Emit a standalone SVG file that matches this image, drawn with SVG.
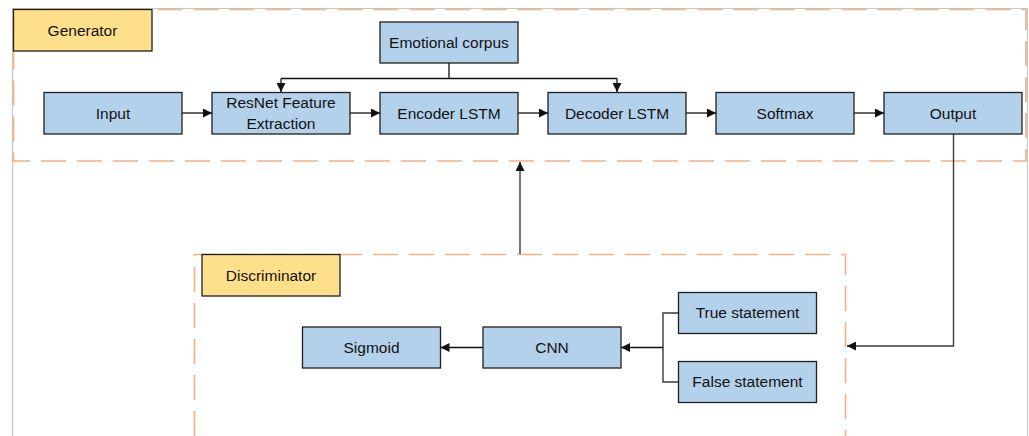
<svg xmlns="http://www.w3.org/2000/svg" width="1029" height="436" viewBox="0 0 1029 436">
  <style>
    .frame { fill: none; stroke: #c6c6c6; stroke-width: 1.2; }
    .group { fill: none; stroke: #f4b183; stroke-width: 1.7; stroke-dasharray: 25 11; }
    .box { fill: #b4d1eb; stroke: #1f1f1f; stroke-width: 1.3; }
    .label { fill: #ffe08a; stroke: #1f1f1f; stroke-width: 1.3; }
    text { font-family: "Liberation Sans", Arial, sans-serif; font-size: 15.5px; fill: #111; text-anchor: middle; }
    .conn { fill: none; stroke: #111; stroke-width: 1.3; }
    .conn2 { fill: none; stroke: #3a3a3a; stroke-width: 1.4; }
  </style>
  <defs>
    <marker id="arr" viewBox="0 0 10 10" refX="10" refY="5" markerWidth="9" markerHeight="9" markerUnits="userSpaceOnUse" orient="auto">
      <path d="M0,0 L10,5 L0,10 Z" fill="#111"/>
    </marker>
  </defs>

  <rect width="1029" height="436" fill="#ffffff"/>
  <!-- outer frame -->
  <path class="frame" d="M12.5,436 L12.5,8.5 L1027.5,8.5 L1027.5,436"/>

  <!-- group boxes -->
  <g id="generator-group">
    <rect class="group" x="13.5" y="9.5" width="1012.5" height="151.5"/>
    <rect class="label" x="13.5" y="9.5" width="138.5" height="41.5"/>
    <text x="82.5" y="35.5">Generator</text>
  </g>
  <g id="discriminator-group">
    <path class="group" d="M194.5,436 L194.5,254.5 L845.5,254.5 L845.5,436"/>
    <rect class="label" x="202" y="254.5" width="138" height="41.5"/>
    <text x="271" y="280.5">Discriminator</text>
  </g>

  <!-- connectors -->
  <g id="connectors">
    <path class="conn" d="M449,63 L449,78.5 M281,78.5 L617,78.5"/>
    <path class="conn" d="M281,78.5 L281,92" marker-end="url(#arr)"/>
    <path class="conn" d="M617,78.5 L617,92" marker-end="url(#arr)"/>
    <path class="conn" d="M182,113 L212,113" marker-end="url(#arr)"/>
    <path class="conn" d="M350,113 L380,113" marker-end="url(#arr)"/>
    <path class="conn" d="M518,113 L548,113" marker-end="url(#arr)"/>
    <path class="conn" d="M686,113 L716,113" marker-end="url(#arr)"/>
    <path class="conn" d="M854,113 L884,113" marker-end="url(#arr)"/>
    <path class="conn2" d="M953.5,134 L953.5,346 L847,346" marker-end="url(#arr)"/>
    <path class="conn2" d="M520,254 L520,162" marker-end="url(#arr)"/>
    <path class="conn2" d="M678.5,313 L663,313 L663,382 L678.5,382"/>
    <path class="conn" d="M663,347.5 L621,347.5" marker-end="url(#arr)"/>
    <path class="conn" d="M483,347.5 L440.5,347.5" marker-end="url(#arr)"/>
  </g>

  <!-- nodes -->
  <g id="emotional-corpus">
    <rect class="box" x="380" y="22" width="138" height="41"/>
    <text x="449" y="47.5">Emotional corpus</text>
  </g>
  <g id="input">
    <rect class="box" x="44" y="92.5" width="138" height="41.5"/>
    <text x="113" y="118.5">Input</text>
  </g>
  <g id="resnet">
    <rect class="box" x="212" y="92.5" width="138" height="41.5"/>
    <text x="281" y="107.5">ResNet Feature</text>
    <text x="281" y="129">Extraction</text>
  </g>
  <g id="encoder">
    <rect class="box" x="380" y="92.5" width="138" height="41.5"/>
    <text x="449" y="118.5">Encoder LSTM</text>
  </g>
  <g id="decoder">
    <rect class="box" x="548" y="92.5" width="138" height="41.5"/>
    <text x="617" y="118.5">Decoder LSTM</text>
  </g>
  <g id="softmax">
    <rect class="box" x="716" y="92.5" width="138" height="41.5"/>
    <text x="785" y="118.5">Softmax</text>
  </g>
  <g id="output">
    <rect class="box" x="884" y="92.5" width="138" height="41.5"/>
    <text x="953" y="118.5">Output</text>
  </g>
  <g id="sigmoid">
    <rect class="box" x="302.5" y="327" width="138" height="41"/>
    <text x="371.5" y="353">Sigmoid</text>
  </g>
  <g id="cnn">
    <rect class="box" x="483" y="327" width="138" height="41"/>
    <text x="552" y="353">CNN</text>
  </g>
  <g id="true-statement">
    <rect class="box" x="678.5" y="292.5" width="138" height="41"/>
    <text x="747.5" y="318">True statement</text>
  </g>
  <g id="false-statement">
    <rect class="box" x="678.5" y="361.5" width="138" height="41"/>
    <text x="747.5" y="387">False statement</text>
  </g>
</svg>
